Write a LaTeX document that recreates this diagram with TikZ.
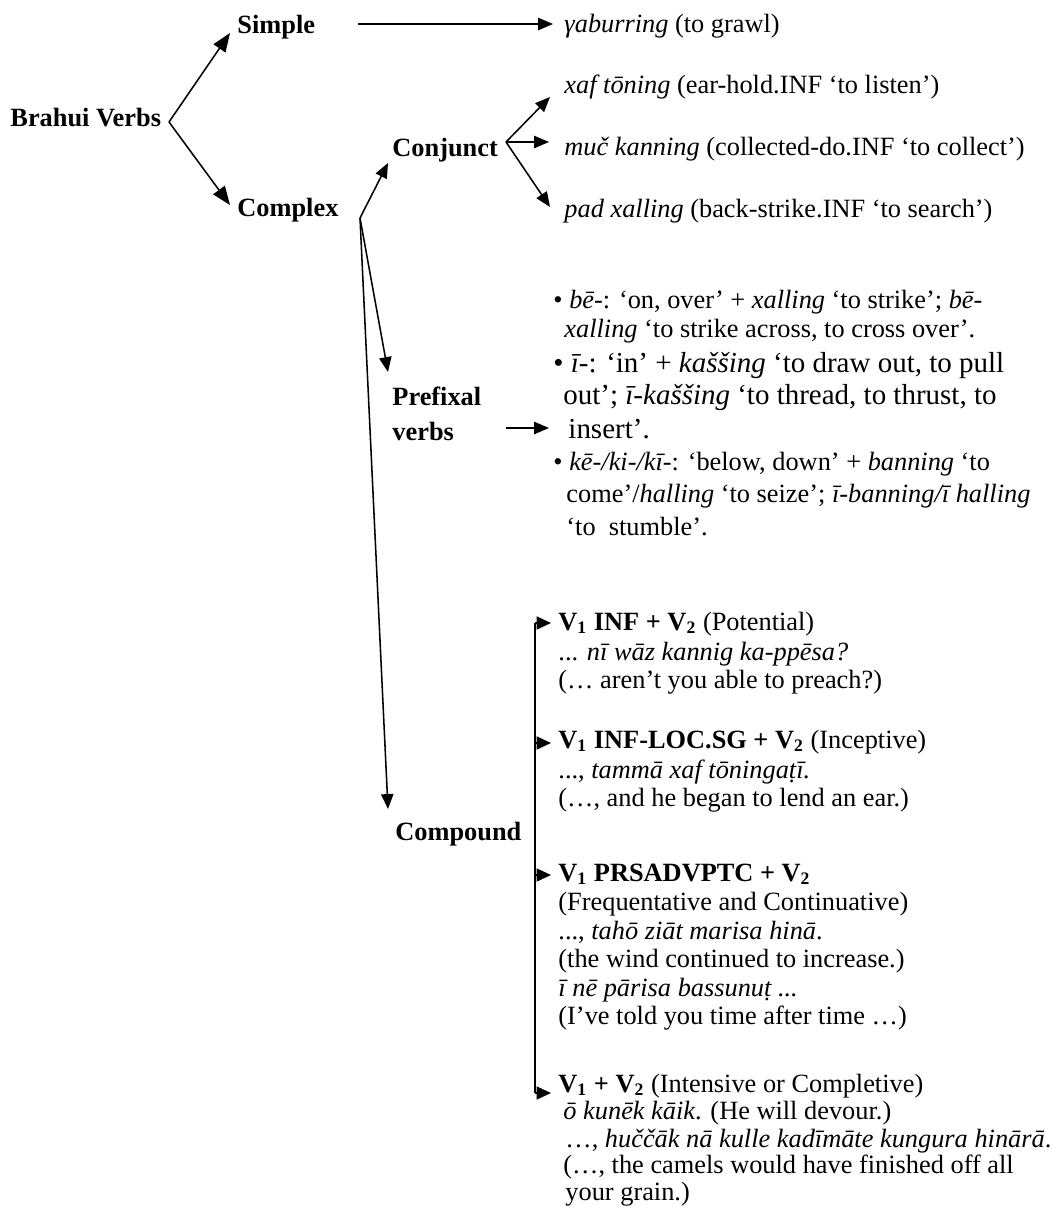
\documentclass[tikz,border=0pt]{standalone}
\usepackage{fontspec}
\setmainfont{Liberation Serif}
\usetikzlibrary{arrows.meta}
\begin{document}
\begin{tikzpicture}[x=0.4554pt,y=-0.4554pt,
  txt/.style={anchor=base west, inner sep=0pt, font=\fontsize{12}{14}\selectfont},
  big/.style={txt, font=\fontsize{13.2}{15}\selectfont},
  lbl/.style={txt, font=\fontsize{12}{14}\selectfont\bfseries},
  mainarr/.style={line width=0.7pt, -{Triangle[length=8.5pt,width=6.5pt]}},
  arr/.style={line width=0.7pt, -{Triangle[length=6.8pt,width=5.6pt]}},
  carr/.style={line width=1pt, -{Triangle[length=6.5pt,width=5.8pt]}},
  vline/.style={line width=1pt}]
\useasboundingbox (0,0) rectangle (1062,1217);

% labels
\node[lbl] (bv) at (10,126) {Brahui Verbs};
\node[lbl] (simple) at (237,33) {Simple};
\node[lbl] (complex) at (237,216) {Complex};
\node[lbl] (conj) at (392,156) {Conjunct};
\node[lbl] (pref) at (392,405) {Prefixal};
\node[lbl] (prefb) at (392,440) {verbs};
\node[lbl] (comp) at (395,840) {Compound};

% top-level arrows
\coordinate (bvx) at (169,122);
\coordinate (simpletip) at (230,33);
\coordinate (complextip) at (230,205);
\draw[mainarr] (bvx) -- (simpletip);
\draw[mainarr] (bvx) -- (complextip);

% simple
\coordinate (simfrom) at (358,24);
\coordinate (simto) at (553,24);
\draw[arr] (simfrom) -- (simto);
\node[txt] (gab) at (564,32) {\textit{γaburring} (to grawl)};

% complex branches
\coordinate (cx) at (360,218);
\coordinate (conjtip) at (388,163);
\coordinate (preftip) at (388,372);
\coordinate (comptip) at (388,809);
\draw[arr] (cx) -- (conjtip);
\draw[arr] (cx) -- (preftip);
\draw[arr] (cx) -- (comptip);

% conjunct
\coordinate (cjx) at (506,142);
\coordinate (cj1) at (550,97);
\coordinate (cj2) at (549,142);
\coordinate (cj3) at (550,207);
\draw[arr] (cjx) -- (cj1);
\draw[arr] (cjx) -- (cj2);
\draw[arr] (cjx) -- (cj3);
\node[txt] (xaf) at (564,93) {\textit{xaf tōning} (ear-hold.INF ‘to listen’)};
\node[txt] (muc) at (564,155) {\textit{muč kanning} (collected-do.INF ‘to collect’)};
\node[txt] (pad) at (564,217) {\textit{pad xalling} (back-strike.INF ‘to search’)};

% prefixal
\coordinate (pfrom) at (506,428);
\coordinate (pto) at (549,428);
\draw[arr] (pfrom) -- (pto);
\node[txt] (b1) at (553,308) {• \textit{bē-}: ‘on, over’ + \textit{xalling} ‘to strike’; \textit{bē-}};
\node[txt] (b2) at (564,337) {\textit{xalling} ‘to strike across, to cross over’.};
\node[big] (b3) at (553,372) {• \textit{ī-}: ‘in’ + \textit{kaššing} ‘to draw out, to pull};
\node[big] (b4) at (563,404) {out’; \textit{ī-kaššing} ‘to thread, to thrust, to};
\node[big] (b5) at (568,438) {insert’.};
\node[txt] (b6) at (553,470) {• \textit{kē-/ki-/kī-}: ‘below, down’ + \textit{banning} ‘to};
\node[txt] (b7) at (566,502) {come’/\textit{halling} ‘to seize’; \textit{ī-banning/ī halling}};
\node[txt] (b8) at (566,535) {‘to\ \ stumble’.};

% compound
\coordinate (v1) at (535,623);
\coordinate (v2) at (535,743);
\coordinate (v3) at (535,875);
\coordinate (v4) at (535,1093);
\coordinate (t1) at (551,623);
\coordinate (t2) at (551,743);
\coordinate (t3) at (551,875);
\coordinate (t4) at (551,1093);
\draw[vline] (v1) -- (v4);
\foreach \i in {1,2,3,4} \draw[carr] (v\i) -- (t\i);

\node[txt] (g1a) at (558,630) {\textbf{V\textsubscript{1} INF + V\textsubscript{2}} (Potential)};
\node[txt] (g1b) at (558,660) {... \textit{nī wāz kannig ka-ppēsa?}};
\node[txt] (g1c) at (558,688) {(… aren’t you able to preach?)};

\node[txt] (g2a) at (558,748) {\textbf{V\textsubscript{1} INF-LOC.SG + V\textsubscript{2}} (Inceptive)};
\node[txt] (g2b) at (558,778) {..., \textit{tammā xaf tōningaṭī.}};
\node[txt] (g2c) at (558,806) {(…, and he began to lend an ear.)};

\node[txt] (g3a) at (558,881) {\textbf{V\textsubscript{1} PRSADVPTC + V\textsubscript{2}}};
\node[txt] (g3b) at (558,910) {(Frequentative and Continuative)};
\node[txt] (g3c) at (558,939) {..., \textit{tahō ziāt marisa hinā}.};
\node[txt] (g3d) at (558,967) {(the wind continued to increase.)};
\node[txt] (g3e) at (558,996) {\textit{ī nē pārisa bassunuṭ ...}};
\node[txt] (g3f) at (558,1024) {(I’ve told you time after time …)};

\node[txt] (g4a) at (558,1092) {\textbf{V\textsubscript{1} + V\textsubscript{2}} (Intensive or Completive)};
\node[txt] (g4b) at (563,1119) {\textit{ō kunēk kāik}. (He will devour.)};
\node[txt] (g4c) at (565,1147) {…, \textit{huččāk nā kulle kadīmāte kungura hinārā}.};
\node[txt] (g4d) at (563,1173) {(…, the camels would have finished off all};
\node[txt] (g4e) at (565,1200) {your grain.)};
\end{tikzpicture}
\end{document}
